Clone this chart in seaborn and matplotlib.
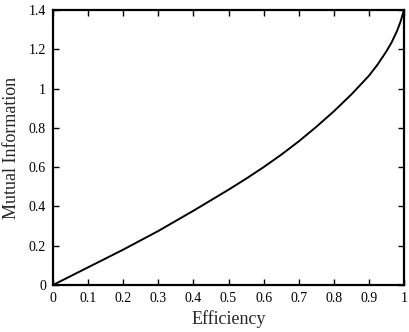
import numpy as np
import pandas as pd
import matplotlib
matplotlib.use("Agg")
import matplotlib.pyplot as plt
import seaborn as sns

# Values
efficiency = [0.0, 0.1, 0.2, 0.3, 0.4, 0.5, 0.55, 0.6, 0.65, 0.7, 0.75, 0.8,
              0.85, 0.9, 0.925, 0.95, 0.965, 0.98, 0.99, 0.995, 1.0]
mutual_info = [0.0, 0.09, 0.18, 0.275, 0.378, 0.485, 0.541, 0.600, 0.663,
               0.731, 0.805, 0.884, 0.970, 1.065, 1.123, 1.19, 1.236, 1.293,
               1.34, 1.37, 1.4]

xticks = [0, 0.1, 0.2, 0.3, 0.4, 0.5, 0.6, 0.7, 0.8, 0.9, 1]
xtick_labels = ["0", "0.1", "0.2", "0.3", "0.4", "0.5", "0.6", "0.7", "0.8", "0.9", "1"]
yticks = [0, 0.2, 0.4, 0.6, 0.8, 1.0, 1.2, 1.4]
ytick_labels = ["0", "0.2", "0.4", "0.6", "0.8", "1", "1.2", "1.4"]

df = pd.DataFrame({"Efficiency": efficiency, "Mutual Information": mutual_info})

sns.set_style("ticks")
plt.rcParams["font.family"] = ["Liberation Serif", "DejaVu Serif"]

fig = plt.figure(figsize=(4.09, 3.32), dpi=100)
ax = fig.add_axes([53 / 409, 47 / 332, 351 / 409, 275 / 332])

sns.lineplot(data=df, x="Efficiency", y="Mutual Information", color="black",
             linewidth=1.4, ax=ax)

ax.set_xlim(0, 1)
ax.set_ylim(0, 1.4)
ax.set_xticks(xticks)
ax.set_xticklabels(xtick_labels)
ax.set_yticks(yticks)
ax.set_yticklabels(ytick_labels)
ax.tick_params(direction="in", top=True, right=True, length=4, width=1,
               labelsize=10, pad=5, colors="black")
for s in ax.spines.values():
    s.set_visible(True)
    s.set_linewidth(1.6)
    s.set_color("black")
ax.set_xlabel("Efficiency", fontsize=13, labelpad=4)
ax.set_ylabel("Mutual Information", fontsize=13, labelpad=6)

fig.savefig("out.png", dpi=100)
